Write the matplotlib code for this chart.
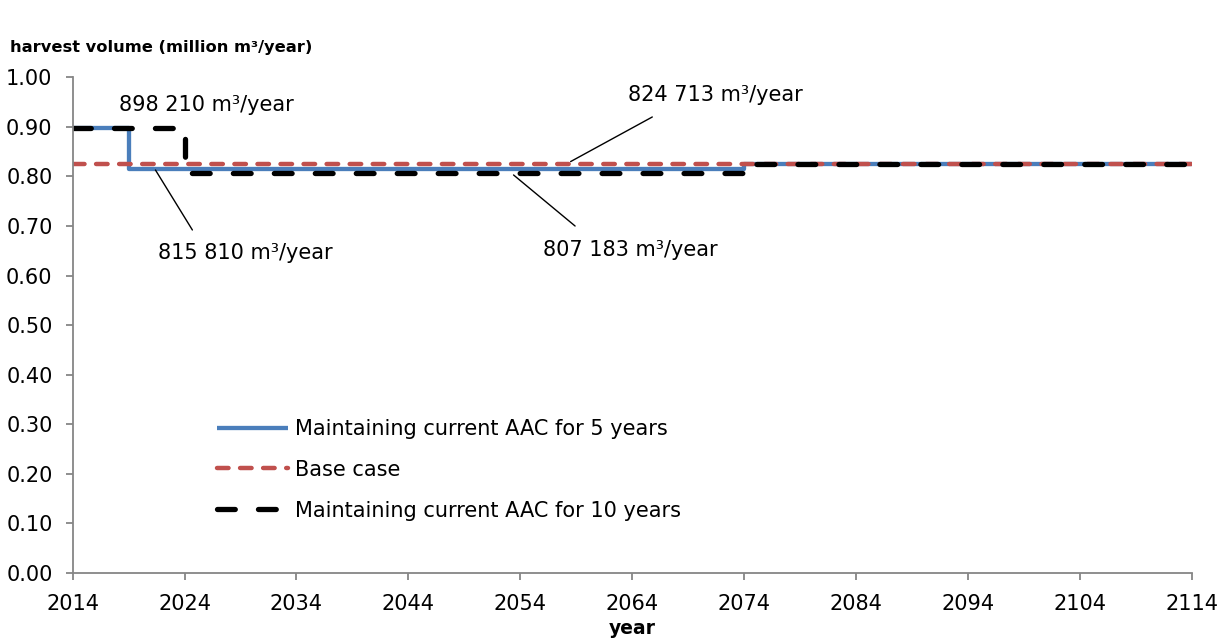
import matplotlib
matplotlib.use('Agg')
import matplotlib.pyplot as plt

# step series (value holds until next year)
years_5 = [2014, 2019, 2074, 2114]
aac_5 = [0.898210, 0.815810, 0.824713, 0.824713]
years_base = [2014, 2114]
base = [0.824713, 0.824713]
years_10 = [2014, 2024, 2074, 2114]
aac_10 = [0.898210, 0.807183, 0.824713, 0.824713]

labels = ['Maintaining current AAC for 5 years', 'Base case',
          'Maintaining current AAC for 10 years']
notes = ['898 210 m³/year', '815 810 m³/year', '824 713 m³/year', '807 183 m³/year']
xticks = list(range(2014, 2115, 10))
yticks = [i / 10 for i in range(11)]

plt.rcParams['lines.scale_dashes'] = False
plt.rcParams['font.size'] = 15

fig = plt.figure(figsize=(12.25, 6.39), dpi=100)
ax = fig.add_axes([0.0593, 0.1033, 0.9135, 0.7757])

ax.plot(years_5, aac_5, drawstyle='steps-post', color='#4A7EBB', lw=3.1,
        label=labels[0], solid_capstyle='butt')
ax.plot(years_base, base, color='#C0504D', lw=3.2, dashes=(8.3, 8.3),
        dash_capstyle='round', label=labels[1])
ax.plot(years_10, aac_10, drawstyle='steps-post', color='black', lw=3.8,
        dashes=(12.8, 16.7), dash_capstyle='round', label=labels[2])

ax.set_xlim(2014, 2114)
ax.set_ylim(0, 1.0)
ax.set_xticks(xticks)
ax.set_yticks(yticks)
ax.yaxis.set_major_formatter(matplotlib.ticker.FormatStrFormatter('%.2f'))

for s in ['top', 'right']:
    ax.spines[s].set_visible(False)
for s in ['left', 'bottom']:
    ax.spines[s].set_color('#868686')
    ax.spines[s].set_linewidth(1.3)
ax.tick_params(axis='both', color='#868686', length=5, width=1.3, labelsize=15)
ax.tick_params(axis='x', pad=10)
ax.tick_params(axis='y', pad=9.5)

ax.set_xlabel('year', fontweight='bold', fontsize=13.5, labelpad=4)
fig.text(0.008, 0.925, 'harvest volume (million m³/year)', fontweight='bold',
         fontsize=11.7, va='center')

line = dict(arrowstyle='-', color='black', lw=1.0, shrinkA=0, shrinkB=0)
ax.text(2018.1, 0.944, notes[0], va='center')
ax.text(2021.6, 0.646, notes[1], va='center')
ax.annotate('', xy=(2021.4, 0.813), xytext=(2024.7, 0.692), arrowprops=line)
ax.text(2063.6, 0.964, notes[2], va='center')
ax.annotate('', xy=(2058.5, 0.830), xytext=(2065.8, 0.920), arrowprops=line)
ax.text(2056.0, 0.652, notes[3], va='center')
ax.annotate('', xy=(2053.4, 0.803), xytext=(2058.9, 0.700), arrowprops=line)

ax.legend(loc='upper left', bbox_to_anchor=(0.129, 0.311), frameon=False,
          handlelength=3.4, handletextpad=0.34, labelspacing=1.0,
          borderpad=0, borderaxespad=0)

fig.savefig('out.png', dpi=100)
